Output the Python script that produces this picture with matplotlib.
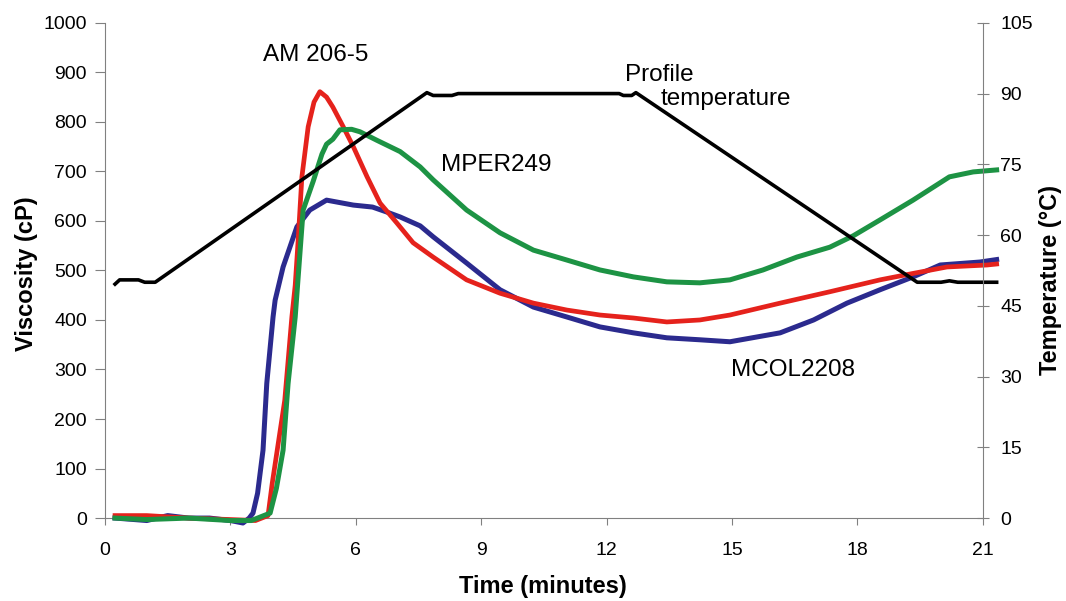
import matplotlib
matplotlib.use("Agg")
import matplotlib.pyplot as plt

plt.rcParams['font.family'] = ['Liberation Sans', 'DejaVu Sans']

# viscosity curves (time in minutes, viscosity in cP)
am_t = [0.24, 1.0, 2.0, 3.0, 3.6, 3.9, 4.0, 4.3, 4.47, 4.55, 4.62, 4.71, 4.86, 5.0,
        5.14, 5.3, 5.45, 5.7, 5.94, 6.27, 6.58, 6.98, 7.37, 7.85, 8.65, 9.45,
        10.25, 11.05, 11.84, 12.64, 13.44, 14.23, 14.95, 16.15, 17.34, 18.54,
        19.33, 20.14, 21.1, 21.33]
am_v = [5, 5, 0, -3, -5, 5, 70, 238, 406, 470, 560, 689, 790, 840,
        861, 850, 830, 790, 750, 689, 636, 596, 556, 527, 481, 454,
        434, 420, 410, 404, 396, 400, 410, 434, 457, 481,
        494, 507, 511, 513]

mper_t = [0.24, 1.0, 2.0, 3.0, 3.5, 3.95, 4.1, 4.26, 4.38, 4.55, 4.65, 4.74, 4.98,
          5.19, 5.3, 5.45, 5.62, 5.9, 6.1, 6.5, 7.06, 7.54, 7.85, 8.65, 9.45,
          10.25, 11.05, 11.84, 12.64, 13.44, 14.23, 14.95, 15.74, 16.55, 17.34,
          17.9, 18.54, 19.33, 20.2, 20.77, 21.33]
mper_v = [0, -3, 0, -5, -5, 10, 60, 137, 272, 406, 520, 622, 680,
          735, 755, 765, 784, 785, 780, 763, 740, 709, 683, 622, 576,
          541, 521, 501, 487, 477, 475, 481, 501, 527, 547,
          570, 602, 642, 689, 699, 703]

mcol_t = [0.24, 1.0, 1.5, 2.0, 2.5, 3.0, 3.3, 3.45, 3.54, 3.65, 3.78, 3.87, 4.02,
          4.07, 4.26, 4.59, 4.9, 5.3, 5.94, 6.4, 6.74, 7.06, 7.54, 7.85, 8.65,
          9.45, 10.25, 11.05, 11.84, 12.64, 13.44, 14.23, 14.95, 16.15, 16.95,
          17.75, 18.54, 19.33, 19.98, 20.93, 21.33]
mcol_v = [0, -5, 5, 0, 0, -5, -10, 0, 10, 50, 137, 272, 406,
          440, 507, 588, 622, 642, 632, 628, 618, 608, 590, 568, 515,
          461, 426, 406, 386, 374, 364, 360, 356, 374, 400,
          434, 461, 487, 511, 517, 522]

# temperature profile (°C)
temp_t = [0.24, 0.35, 0.8, 0.95, 1.2, 7.7, 7.85, 8.3, 8.45, 12.3, 12.4, 12.6,
          12.7, 19.43, 20.0, 20.2, 20.4, 21.33]
temp_c = [49.6, 50.5, 50.5, 50.0, 50.0, 90.2, 89.6, 89.6, 90.0, 90.0, 89.6, 89.6,
          90.2, 50.0, 50.0, 50.3, 50.0, 50.0]

x_ticks = [0, 3, 6, 9, 12, 15, 18, 21]
visc_ticks = list(range(0, 1001, 100))
temp_ticks = list(range(0, 106, 15))

fig = plt.figure(figsize=(10.66, 6.01), dpi=100)
ax = fig.add_axes([0.0985, 0.138, 0.8235, 0.824])
ax2 = ax.twinx()

ax.plot(mcol_t, mcol_v, color='#2b2a8e', lw=3.6, clip_on=False, zorder=3)
ax.plot(am_t, am_v, color='#e5221c', lw=3.4, clip_on=False, zorder=4)
ax.plot(mper_t, mper_v, color='#1d9344', lw=3.6, clip_on=False, zorder=5)
ax2.plot(temp_t, temp_c, color='black', lw=2.6, clip_on=False)

ax.set_xlim(0, 21)
ax.set_ylim(0, 1000)
ax2.set_ylim(0, 105)
ax.set_xticks(x_ticks)
ax.set_yticks(visc_ticks)
ax2.set_yticks(temp_ticks)

grey = '#808080'
for a in (ax, ax2):
    a.spines['top'].set_visible(False)
    for s in ('left', 'right', 'bottom'):
        a.spines[s].set_color(grey)
ax.spines['right'].set_visible(False)
ax2.spines['left'].set_visible(False)
ax2.spines['bottom'].set_visible(False)

ax.tick_params(axis='y', direction='out', length=7, color=grey, labelsize=14, pad=6)
ax.tick_params(axis='x', direction='out', length=5, color=grey, labelsize=14, pad=12)
ax2.tick_params(axis='y', direction='inout', length=9, color=grey, labelsize=14, pad=8)

ax.set_xlabel("Time (minutes)", fontsize=17, fontweight='bold')
ax.set_ylabel("Viscosity (cP)", fontsize=17, fontweight='bold')
ax2.set_ylabel("Temperature (°C)", fontsize=17, fontweight='bold')
ax.xaxis.set_label_coords(0.499, -0.115)
ax.yaxis.set_label_coords(-0.076, 0.493)
ax2.yaxis.set_label_coords(1.064, 0.48)

# curve labels
ax.text(3.78, 935, "AM 206-5", fontsize=17.5, va='center')
ax.text(8.04, 713, "MPER249", fontsize=17.5, va='center')
ax.text(14.98, 299, "MCOL2208", fontsize=17.5, va='center')
ax.text(12.44, 895, "Profile", fontsize=17.5, va='center')
ax.text(13.28, 846, "temperature", fontsize=17.5, va='center')

fig.savefig("out.png", dpi=100)
